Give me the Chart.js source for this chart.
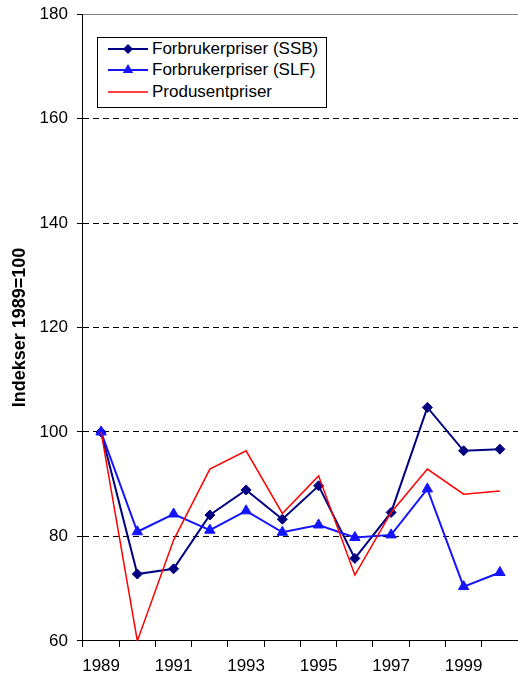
<!DOCTYPE html>
<html>
<head>
<meta charset="utf-8">
<script src="https://cdn.jsdelivr.net/npm/chart.js@4.4.1/dist/chart.umd.min.js"></script>
<style>
  html, body { margin: 0; padding: 0; background: #fff; }
  #wrap { position: relative; width: 518px; height: 678px; }
  #legend {
    position: absolute; left: 97px; top: 37px; width: 230px; height: 71px;
    box-sizing: border-box; border: 1px solid #000; background: #fff;
    font: 17px "Liberation Sans", Arial, sans-serif; color: #000;
  }
  .row { display: flex; align-items: center; height: 21.5px; white-space: nowrap; }
  .row svg { margin-left: 10px; margin-right: 4px; flex: none; }
</style>
</head>
<body>
<div id="wrap">
  <canvas id="chart" width="518" height="678"></canvas>
  <div id="legend"></div>
</div>
<script>
'use strict';

const years = ['1989', '1990', '1991', '1992', '1993', '1994', '1995', '1996', '1997', '1998', '1999', '2000'];
const ssbValues = [100, 72.8, 73.8, 84.1, 88.9, 83.3, 89.7, 75.8, 84.6, 104.7, 96.4, 96.7];
const slfValues = [100, 80.9, 84.3, 81.2, 84.9, 80.8, 82.2, 79.8, 80.3, 89.1, 70.4, 73.1];
const prodValues = [100, 60, 79.3, 92.9, 96.4, 84.4, 91.6, 72.6, 84.6, 92.9, 88.1, 88.7];
const yTicks = [60, 80, 100, 120, 140, 160, 180];

const FONT = '"Liberation Sans", Arial, sans-serif';
Chart.defaults.font.family = FONT;
Chart.defaults.color = '#000';

const series = [
  { label: 'Forbrukerpriser (SSB)', data: ssbValues, color: '#000080', style: 'rectRot', radius: 5, width: 2 },
  { label: 'Forbrukerpriser (SLF)', data: slfValues, color: '#1414ff', style: 'triangle', radius: 6, width: 2 },
  { label: 'Produsentpriser', data: prodValues, color: '#ff0000', style: false, radius: 0, width: 1.5 },
];

const markerSvg = (s) => {
  let mark = '';
  if (s.style === 'rectRot') mark = `<polygon points="20,2 25,7 20,12 15,7" fill="${s.color}"/>`;
  if (s.style === 'triangle') mark = `<polygon points="20,1 25.2,10 14.8,10" fill="${s.color}"/>`;
  return `<svg width="40" height="14" viewBox="0 0 40 14">
    <line x1="0" y1="7" x2="40" y2="7" stroke="${s.color}" stroke-width="${s.width}"/>${mark}</svg>`;
};

document.getElementById('legend').innerHTML = series.map(s => `
  <div class="row">${markerSvg(s)}<span>${s.label}</span></div>
`).join('');

const ctx = document.getElementById('chart').getContext('2d');
new Chart(ctx, {
  type: 'line',
  data: {
    labels: years,
    datasets: series.map((s, i) => ({
      label: s.label,
      data: s.data,
      borderColor: s.color,
      backgroundColor: s.color,
      borderWidth: s.width,
      pointStyle: s.style,
      pointRadius: s.radius,
      pointBorderWidth: 1,
      pointBorderColor: s.color,
      pointBackgroundColor: s.color,
      tension: 0,
      fill: false,
      order: 3 - i,
    })),
  },
  options: {
    responsive: false,
    animation: false,
    layout: { autoPadding: false, padding: { left: 0, right: -2, top: 14, bottom: -7 } },
    plugins: { legend: { display: false }, tooltip: { enabled: false } },
    scales: {
      x: {
        offset: true,
        grid: { offset: true, drawOnChartArea: false, tickLength: 6, color: '#000', tickColor: '#000' },
        border: { color: '#000', width: 1 },
        ticks: {
          autoSkip: false, maxRotation: 0, padding: 0, color: '#000',
          font: { size: 17, lineHeight: 2.24 },
          // Excel shows every second year only
          callback: function (v, i) { return i % 2 === 0 ? this.getLabelForValue(v) : ''; },
        },
      },
      y: {
        min: 60,
        max: 180,
        afterBuildTicks: (scale) => { scale.ticks = yTicks.map(v => ({ value: v })); },
        grid: {
          color: (c) => !c.tick ? '#000' : c.tick.value === 180 ? '#808080' : c.tick.value === 60 ? 'rgba(0,0,0,0)' : '#000',
          tickColor: '#000',
          tickLength: 6,
          lineWidth: 1,
        },
        border: {
          color: '#000', width: 1,
          dash: (c) => (c.tick && c.tick.value > 60 && c.tick.value < 180) ? [6, 4] : [],
        },
        ticks: { padding: 9, color: '#000', font: { size: 17, lineHeight: 0.6 } },
        title: {
          display: true, text: 'Indekser 1989=100', color: '#000',
          font: { size: 18, weight: 'bold' },
          padding: { top: 9, bottom: 0 },
        },
      },
    },
  },
});
</script>
</body>
</html>
